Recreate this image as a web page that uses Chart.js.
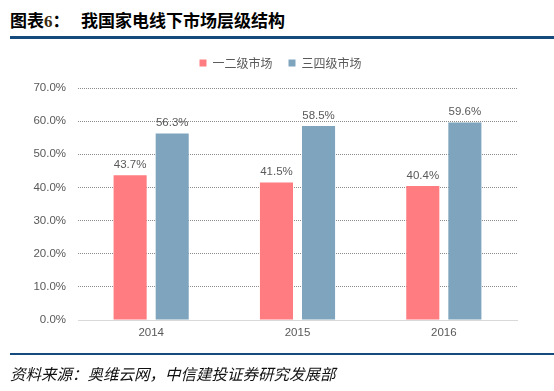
<!DOCTYPE html>
<html>
<head>
<meta charset="utf-8">
<script src="https://cdn.jsdelivr.net/npm/chart.js@4/dist/chart.umd.min.js"></script>
<style>
  body { margin: 0; background: #fff; }
  #wrap { position: relative; width: 554px; height: 391px; overflow: hidden; font-family: "Noto Sans CJK SC", sans-serif; }
  #title { position: absolute; left: 10px; top: 7px; font-size: 17px; font-weight: bold; color: #000; white-space: pre; }
  #title .num { font-family: "Liberation Serif", serif; color: #3a2a10; }
  .rule { position: absolute; left: 10px; right: 0; background: #154a7d; }
  #source { position: absolute; left: 10px; top: 362px; font-size: 15.5px; font-style: italic; color: #111; }
  canvas { position: absolute; left: 0; top: 0; }
</style>
</head>
<body>
<div id="wrap">
  <div id="title">图表<span class="num">6</span>：   我国家电线下市场层级结构</div>
  <div class="rule" style="top:36px;height:3px"></div>
  <canvas id="c" width="554" height="391"></canvas>
  <div class="rule" style="top:353px;height:2px"></div>
  <div id="source">资料来源：奥维云网，中信建投证券研究发展部</div>
</div>
<script>
var years = ["2014", "2015", "2016"];
var tier12 = [43.7, 41.5, 40.4];
var tier34 = [56.3, 58.5, 59.6];
var tickValues = [0, 10, 20, 30, 40, 50, 60, 70];

var barLabels = {
  id: "barLabels",
  afterDatasetsDraw: function(chart) {
    var ctx = chart.ctx;
    ctx.save();
    ctx.font = "11.5px 'Liberation Sans', Arial, sans-serif";
    ctx.fillStyle = "#595959";
    ctx.textAlign = "center";
    ctx.textBaseline = "bottom";
    chart.data.datasets.forEach(function(ds, i) {
      chart.getDatasetMeta(i).data.forEach(function(bar, j) {
        ctx.fillText(ds.data[j].toFixed(1) + "%", bar.x, bar.y - 5);
      });
    });
    ctx.restore();
  }
};

// legend: fixed height, shifted right to match the original's centring
var legendFix = {
  id: "legendFix",
  beforeInit: function(chart) {
    var fit = chart.legend.fit;
    chart.legend.fit = function() {
      fit.call(this);
      this.height = 47;
    };
  },
  afterLayout: function(chart) {
    chart.legend.left += 22;
    chart.legend.right += 22;
  }
};

var ctx = document.getElementById("c").getContext("2d");
new Chart(ctx, {
  type: "bar",
  data: {
    labels: years,
    datasets: [
      { label: "一二级市场", data: tier12, backgroundColor: "#ff7c80" },
      { label: "三四级市场", data: tier34, backgroundColor: "#7fa5be" }
    ]
  },
  options: {
    responsive: false,
    animation: false,
    categoryPercentage: 0.575,
    barPercentage: 0.786,
    layout: { padding: { top: 41, left: 0, right: 37, bottom: 41 } },
    plugins: {
      legend: {
        position: "top",
        labels: {
          boxWidth: 7, boxHeight: 7, padding: 16, color: "#595959",
          font: { size: 12, family: "'Noto Sans CJK SC', sans-serif" }
        }
      },
      tooltip: { enabled: false }
    },
    scales: {
      x: {
        grid: { display: false, drawTicks: false },
        border: { display: true, color: "#d9d9d9", width: 1 },
        ticks: { color: "#595959", font: { size: 11.5, family: "'Liberation Sans', Arial, sans-serif" }, padding: 6 },
        afterFit: function(s) { s.height = 30; }
      },
      y: {
        min: 0, max: 70,
        afterBuildTicks: function(s) { s.ticks = tickValues.map(function(v) { return { value: v }; }); },
        grid: {
          color: function(c) { return c.tick && c.tick.value === 0 ? "rgba(0,0,0,0)" : "#8c8c8c"; },
          drawTicks: false
        },
        border: { display: false, dash: [1, 1] },
        ticks: {
          color: "#595959", padding: 12,
          font: { size: 11.5, family: "'Liberation Sans', Arial, sans-serif" },
          callback: function(v) { return v.toFixed(1) + "%"; }
        },
        afterFit: function(s) { s.width = 78; }
      }
    }
  },
  plugins: [barLabels, legendFix]
});
</script>
</body>
</html>
